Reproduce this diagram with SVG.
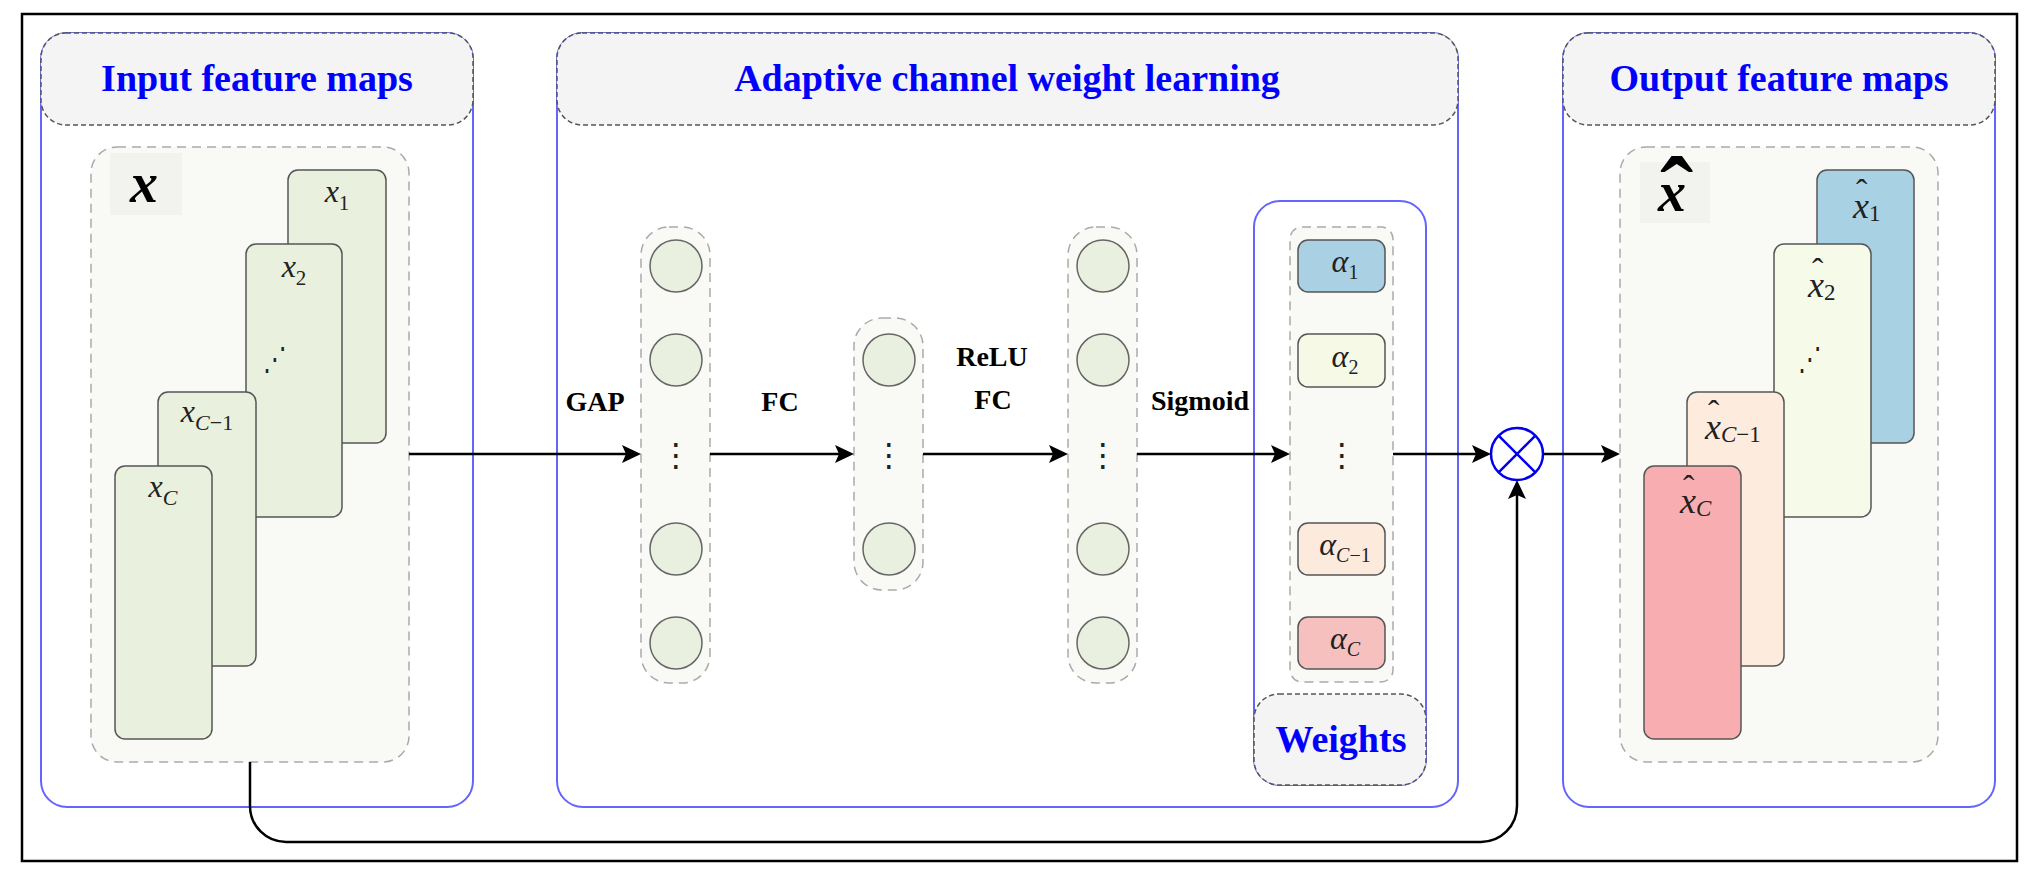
<svg xmlns="http://www.w3.org/2000/svg" width="2043" height="881" viewBox="0 0 2043 881">
<style>
.panel{fill:#fff;stroke:#6464ff;stroke-width:2}
.hdr{fill:#f4f4f4;stroke:#555;stroke-width:1.5;stroke-dasharray:5 3}
.hdrtxt{font-family:"Liberation Serif",serif;font-weight:bold;font-size:38px;fill:#0000ff;text-anchor:middle}
.inner{fill:#f9f9f5;stroke:#aaa;stroke-width:1.5;stroke-dasharray:9 6}
.txtbg{fill:#f2f2ee}
.card{stroke:#555;stroke-width:1.5}
.green{fill:#e9f0dd}
.neuron{fill:#e9f0df;stroke:#666;stroke-width:1.5}
.lbl{font-family:"Liberation Serif",serif;font-weight:bold;font-size:28px;fill:#000;text-anchor:middle}
.math{font-family:"Liberation Serif",serif;font-style:italic;font-size:32px;fill:#222}
.mathb{font-family:"Liberation Serif",serif;font-style:italic;font-weight:bold;font-size:56px;fill:#000}
.mo{font-family:"Liberation Serif",serif;font-style:italic;font-size:36px;fill:#222}
.dots{font-family:"DejaVu Sans",sans-serif;font-size:32px;fill:#222;text-anchor:middle}
.conn{fill:none;stroke:#000;stroke-width:2.5}
.mul{fill:#fff;stroke:#0000ee;stroke-width:2.5}
</style>
<defs>
<marker id="ah" markerUnits="userSpaceOnUse" markerWidth="22" markerHeight="20" refX="15" refY="9" orient="auto">
<path d="M0,0 L19,9 L0,18 L4,9 z" fill="#000"/>
</marker>
</defs>
<rect x="0" y="0" width="2043" height="881" fill="#fff"/>
<rect x="22" y="14" width="1995" height="847" fill="none" stroke="#000" stroke-width="2.5"/>

<g id="input-panel">
<rect class="panel" x="41" y="33" width="432" height="774" rx="26"/>
<rect class="hdr" x="41" y="33" width="432" height="92" rx="25"/>
<text class="hdrtxt" x="257" y="91">Input feature maps</text>
<rect class="inner" x="91" y="147" width="318" height="615" rx="26"/>
<rect class="txtbg" x="110" y="153" width="72" height="62"/>
<text class="mathb" x="130" y="202">x</text>
<rect class="card green" x="288" y="170" width="98" height="273" rx="10"/>
<text class="math" x="337" y="202" text-anchor="middle">x<tspan font-size="21" font-style="normal" dy="8">1</tspan></text>
<rect class="card green" x="246" y="244" width="96" height="273" rx="10"/>
<text class="math" x="294" y="277" text-anchor="middle">x<tspan font-size="21" font-style="normal" dy="8">2</tspan></text>
<text class="dots" x="275" y="370" transform="translate(275 357) scale(0.75 1) translate(-275 -357)">⋰</text>
<rect class="card green" x="158" y="392" width="98" height="274" rx="10"/>
<text class="math" x="207" y="422" text-anchor="middle">x<tspan font-size="22" dy="8">C</tspan><tspan font-size="22" font-style="normal">−1</tspan></text>
<rect class="card green" x="115" y="466" width="97" height="273" rx="10"/>
<text class="math" x="163" y="497" text-anchor="middle">x<tspan font-size="22" dy="8">C</tspan></text>
</g>

<g id="adaptive-panel">
<rect class="panel" x="557" y="33" width="901" height="774" rx="26"/>
<rect class="hdr" x="557" y="33" width="901" height="92" rx="25"/>
<text class="hdrtxt" x="1007" y="91">Adaptive channel weight learning</text>
</g>

<g id="gap-layer">
<rect class="inner" x="641" y="227" width="69" height="456" rx="28"/>
<circle class="neuron" cx="676" cy="266" r="26"/>
<circle class="neuron" cx="676" cy="360" r="26"/>
<text class="dots" x="676" y="466">⋮</text>
<circle class="neuron" cx="676" cy="549" r="26"/>
<circle class="neuron" cx="676" cy="643" r="26"/>
</g>

<g id="fc-layer">
<rect class="inner" x="854" y="318" width="69" height="272" rx="28"/>
<circle class="neuron" cx="889" cy="360" r="26"/>
<text class="dots" x="889" y="466">⋮</text>
<circle class="neuron" cx="889" cy="549" r="26"/>
</g>

<g id="fc2-layer">
<rect class="inner" x="1068" y="227" width="69" height="456" rx="28"/>
<circle class="neuron" cx="1103" cy="266" r="26"/>
<circle class="neuron" cx="1103" cy="360" r="26"/>
<text class="dots" x="1103" y="466">⋮</text>
<circle class="neuron" cx="1103" cy="549" r="26"/>
<circle class="neuron" cx="1103" cy="643" r="26"/>
</g>

<g id="weights">
<rect class="panel" x="1254" y="201" width="172" height="584" rx="26"/>
<rect class="hdr" x="1254" y="694" width="172" height="91" rx="25"/>
<text class="hdrtxt" x="1341" y="752">Weights</text>
<rect class="inner" x="1290" y="227" width="103" height="455" rx="12"/>
<rect class="card" x="1298" y="240" width="87" height="52" rx="10" fill="#a9d1e3"/>
<text class="math" x="1345" y="272" text-anchor="middle">α<tspan font-size="20" font-style="normal" dy="7">1</tspan></text>
<rect class="card" x="1298" y="334" width="87" height="53" rx="10" fill="#f5f9e6"/>
<text class="math" x="1345" y="367" text-anchor="middle">α<tspan font-size="20" font-style="normal" dy="7">2</tspan></text>
<text class="dots" x="1342" y="466">⋮</text>
<rect class="card" x="1298" y="523" width="87" height="52" rx="10" fill="#fcebdc"/>
<text class="math" x="1345" y="555" text-anchor="middle">α<tspan font-size="20" dy="7">C</tspan><tspan font-size="20" font-style="normal">−1</tspan></text>
<rect class="card" x="1298" y="617" width="87" height="52" rx="10" fill="#f6c0bf"/>
<text class="math" x="1345" y="649" text-anchor="middle">α<tspan font-size="20" dy="7">C</tspan></text>
</g>

<g id="multiply">
<circle class="mul" cx="1517" cy="454" r="26"/>
<path d="M1498.6,435.6 L1535.4,472.4 M1535.4,435.6 L1498.6,472.4" stroke="#0000ee" stroke-width="2.5"/>
</g>

<g id="output-panel">
<rect class="panel" x="1563" y="33" width="432" height="774" rx="26"/>
<rect class="hdr" x="1563" y="33" width="432" height="92" rx="25"/>
<text class="hdrtxt" x="1779" y="91">Output feature maps</text>
<rect class="inner" x="1620" y="147" width="318" height="615" rx="26"/>
<rect class="txtbg" x="1640" y="162" width="70" height="61"/>
<text class="mathb"><tspan x="1660" y="226" font-size="100" font-style="normal">ˆ</tspan><tspan x="1658" y="211">x</tspan></text>
<rect class="card" x="1817" y="170" width="97" height="273" rx="10" fill="#a9d1e4"/>
<text class="mo"><tspan x="1856" y="203" font-size="34" font-style="normal">ˆ</tspan><tspan x="1853" y="218">x</tspan><tspan font-size="23" font-style="normal" dy="3">1</tspan></text>
<rect class="card" x="1774" y="244" width="97" height="273" rx="10" fill="#f6fae9"/>
<text class="mo"><tspan x="1812" y="282" font-size="34" font-style="normal">ˆ</tspan><tspan x="1808" y="297">x</tspan><tspan font-size="23" font-style="normal" dy="3">2</tspan></text>
<text class="dots" x="1810" y="370" transform="translate(1810 357) scale(0.75 1) translate(-1810 -357)">⋰</text>
<rect class="card" x="1687" y="392" width="97" height="274" rx="10" fill="#fdecdd"/>
<text class="mo"><tspan x="1708" y="424" font-size="34" font-style="normal">ˆ</tspan><tspan x="1705" y="439">x</tspan><tspan font-size="23" dy="3">C</tspan><tspan font-size="23" font-style="normal">−1</tspan></text>
<rect class="card" x="1644" y="466" width="97" height="273" rx="10" fill="#f8aeb1"/>
<text class="mo"><tspan x="1683" y="499" font-size="34" font-style="normal">ˆ</tspan><tspan x="1680" y="513">x</tspan><tspan font-size="23" dy="3">C</tspan></text>
</g>

<g id="connectors">
<path class="conn" d="M409,454 H637" marker-end="url(#ah)"/>
<path class="conn" d="M710,454 H850" marker-end="url(#ah)"/>
<path class="conn" d="M923,454 H1064" marker-end="url(#ah)"/>
<path class="conn" d="M1137,454 H1286" marker-end="url(#ah)"/>
<path class="conn" d="M1393,454 H1487" marker-end="url(#ah)"/>
<path class="conn" d="M1543,454 H1616" marker-end="url(#ah)"/>
<path class="conn" d="M250,762 V806 A36,36 0 0 0 286,842 H1481 A36,36 0 0 0 1517,806 V484" marker-end="url(#ah)"/>
</g>

<g id="labels">
<text class="lbl" x="595" y="411">GAP</text>
<text class="lbl" x="780" y="411">FC</text>
<text class="lbl" x="992" y="366">ReLU</text>
<text class="lbl" x="993" y="409">FC</text>
<text class="lbl" x="1200" y="410">Sigmoid</text>
</g>
</svg>
